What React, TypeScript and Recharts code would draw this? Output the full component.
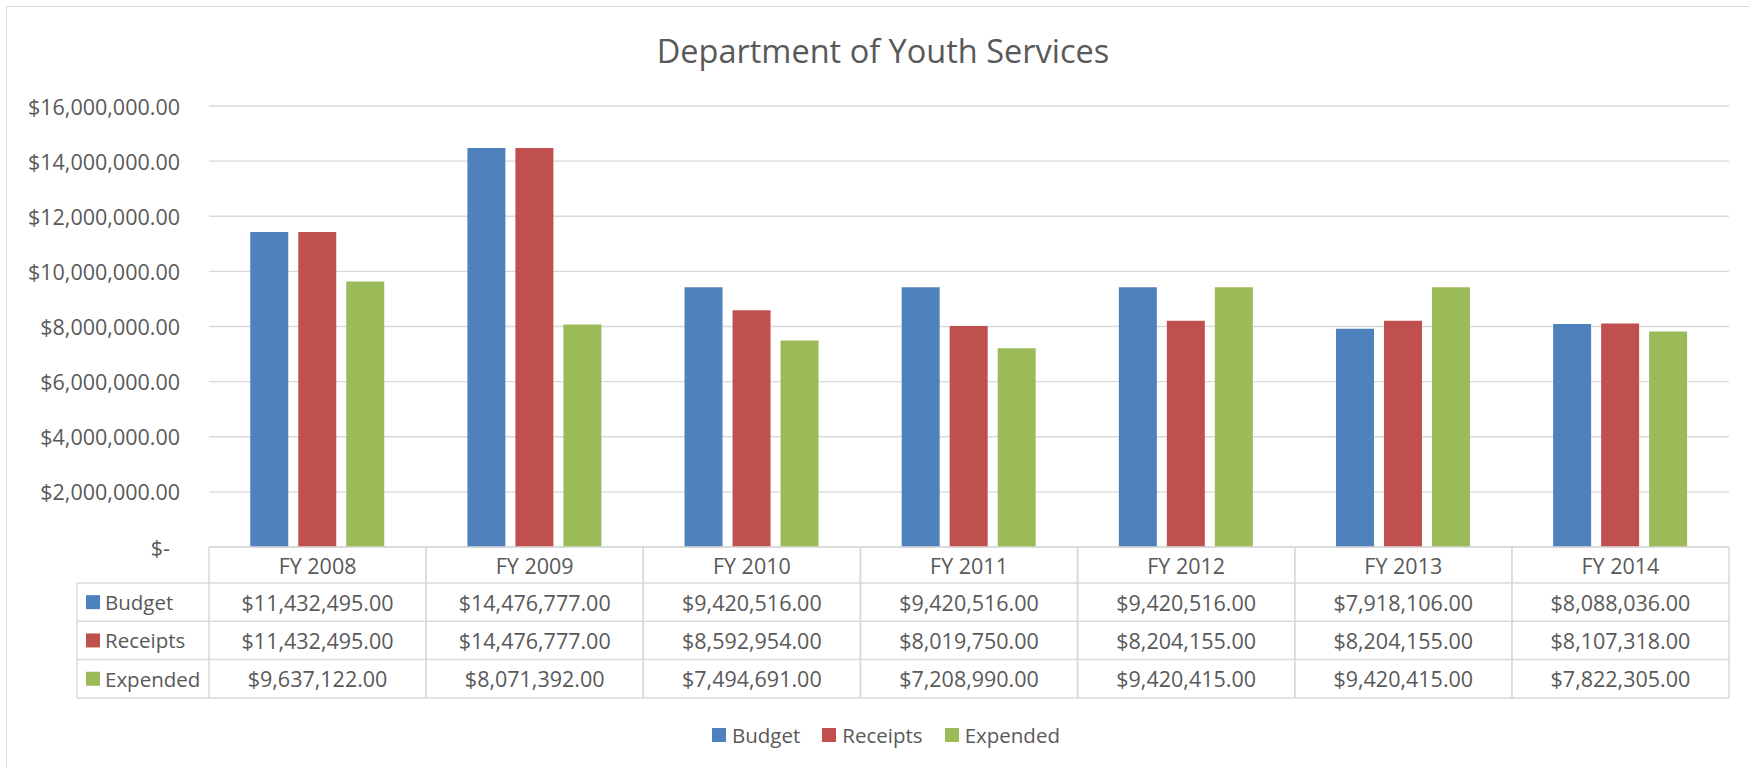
import React from 'react';
import { BarChart, Bar, XAxis, YAxis, CartesianGrid } from 'recharts';

const years = ['FY 2008', 'FY 2009', 'FY 2010', 'FY 2011', 'FY 2012', 'FY 2013', 'FY 2014'];
const budget = [11432495, 14476777, 9420516, 9420516, 9420516, 7918106, 8088036];
const receipts = [11432495, 14476777, 8592954, 8019750, 8204155, 8204155, 8107318];
const expended = [9637122, 8071392, 7494691, 7208990, 9420415, 9420415, 7822305];
const seriesNames = ['Budget', 'Receipts', 'Expended'];
const yTicks = [0, 2000000, 4000000, 6000000, 8000000, 10000000, 12000000, 14000000, 16000000];

const COLORS = ['#4f81bd', '#c0504d', '#9bbb59'];
const TEXT = '#595959';
const LINE = '#d9d9d9';
const FONT = "'Open Sans', sans-serif";
const FS = 21.5;
const LABEL_FS = 20.5;

const W = 1749;
const H = 768;
const PLOT_LEFT = 209;
const PLOT_RIGHT = 1729;
const COL_W = (PLOT_RIGHT - PLOT_LEFT) / years.length;
const HEADER_H = 36;
const ROW_H = 38.3;
const LABEL_COL_LEFT = 77;

const seriesValues = [budget, receipts, expended];

const data = years.map((year, i) => ({
  year,
  Budget: budget[i],
  Receipts: receipts[i],
  Expended: expended[i],
}));

const money = new Intl.NumberFormat('en-US', { minimumFractionDigits: 2, maximumFractionDigits: 2 });
const fmt = (v: number) => (v === 0 ? '$-' : '$' + money.format(v));

function YTick({ x, y, payload }: any) {
  const zero = payload.value === 0;
  return (
    <text
      x={zero ? x - 10 : x}
      y={y}
      textAnchor="end"
      dominantBaseline="central"
      fill={TEXT}
      fontSize={FS}
      fontFamily={FONT}
    >
      {fmt(payload.value)}
    </text>
  );
}

// the data table under the plot is drawn one column per category tick
function TableTick({ x, y, payload }: any) {
  const i = payload.index;
  const left = x - COL_W / 2;
  const right = x + COL_W / 2;
  const bottom = y + HEADER_H + ROW_H * 3;
  const rowY = (r: number) => y + HEADER_H + ROW_H * r;
  return (
    <g>
      <line x1={left} x2={right} y1={y} y2={y} stroke={LINE} strokeWidth={1.5} />
      {[0, 1, 2, 3].map((r) => (
        <line key={r} x1={left} x2={right} y1={rowY(r)} y2={rowY(r)} stroke={LINE} strokeWidth={1.5} />
      ))}
      <line x1={left} x2={left} y1={y} y2={bottom} stroke={LINE} strokeWidth={1.5} />
      <line x1={right} x2={right} y1={y} y2={bottom} stroke={LINE} strokeWidth={1.5} />
      <text x={x} y={y + HEADER_H / 2} textAnchor="middle" dominantBaseline="central" fill={TEXT} fontSize={FS} fontFamily={FONT}>
        {payload.value}
      </text>
      {seriesValues.map((vals, r) => (
        <text
          key={r}
          x={x}
          y={rowY(r) + ROW_H / 2}
          textAnchor="middle"
          dominantBaseline="central"
          fill={TEXT}
          fontSize={FS}
          fontFamily={FONT}
        >
          {fmt(vals[i])}
        </text>
      ))}
      {i === 0 && (
        <g>
          {[0, 1, 2, 3].map((r) => (
            <line key={r} x1={LABEL_COL_LEFT} x2={left} y1={rowY(r)} y2={rowY(r)} stroke={LINE} strokeWidth={1.5} />
          ))}
          <line x1={LABEL_COL_LEFT} x2={LABEL_COL_LEFT} y1={rowY(0)} y2={bottom} stroke={LINE} strokeWidth={1.5} />
          {seriesNames.map((name, r) => (
            <g key={name}>
              <rect x={LABEL_COL_LEFT + 9} y={rowY(r) + ROW_H / 2 - 7} width={14} height={14} fill={COLORS[r]} />
              <text
                x={LABEL_COL_LEFT + 28}
                y={rowY(r) + ROW_H / 2}
                dominantBaseline="central"
                fill={TEXT}
                fontSize={LABEL_FS}
                fontFamily={FONT}
              >
                {name}
              </text>
            </g>
          ))}
        </g>
      )}
    </g>
  );
}

export default function App() {
  return (
    <div style={{ position: 'absolute', left: 0, top: 0, width: W, height: H, overflow: 'hidden', background: '#fff' }}>
      <div
        style={{
          position: 'absolute',
          left: 6,
          top: 6,
          width: W + 40,
          height: H + 40,
          border: `1.5px solid ${LINE}`,
        }}
      />
      <div style={{ position: 'absolute', left: 0, top: 0 }}>
        <BarChart
          width={W}
          height={H}
          data={data}
          margin={{ top: 106, right: W - PLOT_RIGHT, bottom: 70, left: 0 }}
          barCategoryGap="19%"
          barGap={10}
        >
          <CartesianGrid vertical={false} stroke={LINE} strokeWidth={1.3} />
          <YAxis
            width={PLOT_LEFT}
            domain={[0, 16000000]}
            ticks={yTicks}
            interval={0}
            axisLine={false}
            tickLine={false}
            tickSize={0}
            tickMargin={29}
            tick={<YTick />}
          />
          <XAxis
            dataKey="year"
            height={151}
            interval={0}
            axisLine={false}
            tickLine={false}
            tickSize={0}
            tickMargin={0}
            tick={<TableTick />}
          />
          {seriesNames.map((name, r) => (
            <Bar key={name} dataKey={name} fill={COLORS[r]} isAnimationActive={false} />
          ))}
        </BarChart>
      </div>
      <svg width={W} height={H} style={{ position: 'absolute', left: 0, top: 0, pointerEvents: 'none' }}>
        <text x={883} y={63} textAnchor="middle" fill={TEXT} fontSize={32.5} fontFamily={FONT}>
          Department of Youth Services
        </text>
      </svg>
      <div
        style={{
          position: 'absolute',
          left: 0,
          top: 722,
          width: 1772,
          display: 'flex',
          justifyContent: 'center',
          gap: 22,
          fontFamily: FONT,
          fontSize: LABEL_FS,
          color: TEXT,
          lineHeight: '26px',
        }}
      >
        {seriesNames.map((name, r) => (
          <div key={name} style={{ display: 'flex', alignItems: 'center' }}>
            <div style={{ width: 14, height: 14, background: COLORS[r], marginRight: 6 }} />
            <span>{name}</span>
          </div>
        ))}
      </div>
    </div>
  );
}
